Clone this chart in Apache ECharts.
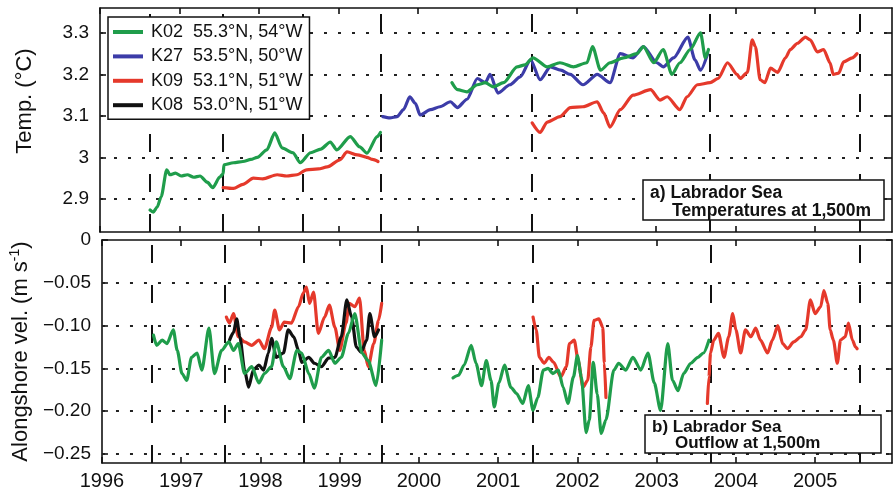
<!DOCTYPE html>
<html>
<head>
<meta charset="utf-8">
<script src="https://cdn.jsdelivr.net/npm/echarts@6/dist/echarts.min.js"></script>
<style>
  html, body { margin: 0; padding: 0; background: #fff; }
  #chart { width: 893px; height: 491px; }
</style>
</head>
<body>
<div id="chart"></div>
<script>
// Mooring identifiers and positions (legend)
const mooringNames = ['K02', 'K27', 'K09', 'K08'];
const mooringPositions = ['55.3°N, 54°W', '53.5°N, 50°W', '53.1°N, 51°W', '53.0°N, 51°W'];

// Axis ticks
const yearTicks = [1996, 1997, 1998, 1999, 2000, 2001, 2002, 2003, 2004, 2005];
const tempTicks = [2.9, 3, 3.1, 3.2, 3.3];
const velTicks = [-0.25, -0.2, -0.15, -0.1, -0.05, 0];
const yearMin = 1996;
const yearMax = 2005.97;

// Mooring turnaround dates (dashed verticals)
const deployments = [1996.63, 1997.55, 1998.55, 1999.53, 2001.44, 2003.68, 2005.56];

// Temperature at 1,500 m (°C), [decimal year, value]
const k02TempA = [[1996.63,2.873],[1996.67,2.868],[1996.72,2.880],[1996.77,2.905],[1996.84,2.970],[1996.88,2.958],[1996.95,2.962],[1997.02,2.955],[1997.10,2.958],[1997.18,2.952],[1997.26,2.955],[1997.35,2.940],[1997.42,2.927],[1997.51,2.953],[1997.55,2.960],[1997.56,2.982],[1997.68,2.987],[1997.80,2.990],[1997.90,2.995],[1997.98,3.000],[1998.10,3.018],[1998.20,3.059],[1998.29,3.023],[1998.43,3.011],[1998.52,2.987],[1998.65,3.011],[1998.78,3.020],[1998.90,3.037],[1998.98,3.018],[1999.15,3.050],[1999.27,3.025],[1999.36,3.010],[1999.49,3.050],[1999.53,3.060]];
const k02TempB = [[2000.43,3.180],[2000.50,3.163],[2000.62,3.158],[2000.75,3.175],[2000.85,3.180],[2000.95,3.170],[2001.08,3.180],[2001.25,3.218],[2001.35,3.223],[2001.45,3.240],[2001.63,3.218],[2001.79,3.228],[2001.96,3.218],[2002.13,3.228],[2002.20,3.267],[2002.30,3.210],[2002.42,3.228],[2002.59,3.240],[2002.76,3.250],[2002.84,3.267],[2002.97,3.228],[2003.09,3.260],[2003.20,3.200],[2003.30,3.228],[2003.43,3.260],[2003.56,3.300],[2003.62,3.240],[2003.66,3.260]];
const k27Temp = [[1999.56,3.098],[1999.65,3.095],[1999.74,3.098],[1999.82,3.115],[1999.90,3.146],[1999.97,3.130],[2000.03,3.102],[2000.16,3.115],[2000.28,3.122],[2000.41,3.134],[2000.50,3.120],[2000.62,3.140],[2000.75,3.190],[2000.85,3.180],[2000.91,3.200],[2001.01,3.155],[2001.16,3.175],[2001.29,3.194],[2001.42,3.235],[2001.54,3.187],[2001.67,3.218],[2001.80,3.210],[2001.92,3.200],[2002.08,3.175],[2002.26,3.200],[2002.42,3.180],[2002.55,3.250],[2002.71,3.240],[2002.84,3.267],[2003.01,3.228],[2003.09,3.218],[2003.22,3.240],[2003.40,3.290],[2003.49,3.235],[2003.56,3.210],[2003.65,3.250]];
const k09TempA = [[1997.55,2.927],[1997.68,2.925],[1997.80,2.935],[1997.93,2.950],[1998.05,2.948],[1998.23,2.958],[1998.35,2.955],[1998.48,2.958],[1998.60,2.970],[1998.75,2.972],[1998.86,2.977],[1999.02,2.994],[1999.11,3.013],[1999.24,3.006],[1999.36,3.000],[1999.43,2.995],[1999.50,2.990]];
const k09TempB = [[2001.44,3.083],[2001.54,3.060],[2001.63,3.085],[2001.79,3.098],[2001.92,3.120],[2002.08,3.122],[2002.26,3.134],[2002.34,3.107],[2002.42,3.073],[2002.55,3.115],[2002.71,3.150],[2002.93,3.163],[2003.05,3.138],[2003.14,3.146],[2003.30,3.115],[2003.39,3.146],[2003.52,3.175],[2003.68,3.180],[2003.78,3.190],[2003.90,3.228],[2004.02,3.200],[2004.06,3.190],[2004.15,3.205],[2004.21,3.283],[2004.25,3.267],[2004.31,3.187],[2004.37,3.180],[2004.44,3.215],[2004.53,3.205],[2004.63,3.240],[2004.69,3.260],[2004.78,3.275],[2004.88,3.290],[2004.94,3.283],[2005.03,3.254],[2005.11,3.260],[2005.19,3.228],[2005.23,3.200],[2005.30,3.203],[2005.36,3.230],[2005.47,3.240],[2005.53,3.250]];

// Alongshore velocity at 1,500 m (m/s), [decimal year, value]
const k02VelA = [[1996.65,-0.111],[1996.69,-0.123],[1996.76,-0.117],[1996.82,-0.121],[1996.90,-0.105],[1996.95,-0.129],[1997.01,-0.156],[1997.07,-0.164],[1997.13,-0.137],[1997.20,-0.132],[1997.26,-0.152],[1997.35,-0.103],[1997.42,-0.156],[1997.51,-0.129],[1997.60,-0.119],[1997.66,-0.129],[1997.72,-0.121],[1997.80,-0.156],[1997.89,-0.148],[1997.98,-0.167],[1998.05,-0.156],[1998.14,-0.148],[1998.20,-0.119],[1998.29,-0.148],[1998.37,-0.162],[1998.46,-0.129],[1998.52,-0.132],[1998.61,-0.156],[1998.68,-0.173],[1998.77,-0.137],[1998.86,-0.129],[1998.94,-0.144],[1999.02,-0.137],[1999.11,-0.109],[1999.19,-0.086],[1999.28,-0.132],[1999.36,-0.141],[1999.46,-0.170],[1999.53,-0.117]];
const k02VelB = [[2000.43,-0.161],[2000.50,-0.158],[2000.57,-0.146],[2000.66,-0.123],[2000.72,-0.144],[2000.79,-0.170],[2000.85,-0.141],[2000.91,-0.164],[2000.95,-0.195],[2001.01,-0.167],[2001.08,-0.146],[2001.16,-0.172],[2001.23,-0.179],[2001.31,-0.191],[2001.38,-0.170],[2001.44,-0.199],[2001.50,-0.184],[2001.57,-0.152],[2001.63,-0.150],[2001.69,-0.156],[2001.76,-0.152],[2001.82,-0.172],[2001.88,-0.191],[2001.95,-0.160],[2002.00,-0.135],[2002.05,-0.160],[2002.11,-0.225],[2002.15,-0.210],[2002.20,-0.143],[2002.25,-0.180],[2002.30,-0.226],[2002.36,-0.210],[2002.46,-0.152],[2002.52,-0.144],[2002.61,-0.152],[2002.70,-0.137],[2002.80,-0.152],[2002.89,-0.132],[2002.97,-0.167],[2003.05,-0.199],[2003.14,-0.121],[2003.20,-0.164],[2003.27,-0.176],[2003.34,-0.156],[2003.43,-0.144],[2003.52,-0.137],[2003.59,-0.132],[2003.66,-0.117]];
const k09VelA = [[1997.57,-0.090],[1997.61,-0.097],[1997.66,-0.086],[1997.72,-0.113],[1997.80,-0.119],[1997.89,-0.123],[1997.98,-0.117],[1998.05,-0.127],[1998.14,-0.102],[1998.18,-0.082],[1998.24,-0.105],[1998.30,-0.096],[1998.39,-0.097],[1998.48,-0.078],[1998.54,-0.062],[1998.58,-0.055],[1998.62,-0.074],[1998.67,-0.061],[1998.73,-0.109],[1998.81,-0.090],[1998.87,-0.076],[1998.94,-0.102],[1999.00,-0.129],[1999.08,-0.097],[1999.12,-0.074],[1999.19,-0.078],[1999.25,-0.068],[1999.31,-0.129],[1999.36,-0.148],[1999.43,-0.121],[1999.49,-0.094],[1999.53,-0.074]];
const k09VelB = [[2001.44,-0.090],[2001.48,-0.105],[2001.52,-0.137],[2001.58,-0.144],[2001.64,-0.137],[2001.70,-0.143],[2001.79,-0.160],[2001.86,-0.148],[2001.90,-0.121],[2001.96,-0.117],[2002.01,-0.141],[2002.07,-0.172],[2002.13,-0.164],[2002.17,-0.125],[2002.21,-0.094],[2002.27,-0.092],[2002.32,-0.102],[2002.34,-0.144],[2002.36,-0.184]];
const k09VelC = [[2003.64,-0.191],[2003.66,-0.160],[2003.68,-0.132],[2003.72,-0.117],[2003.78,-0.109],[2003.85,-0.137],[2003.91,-0.113],[2003.96,-0.086],[2004.00,-0.105],[2004.06,-0.132],[2004.12,-0.105],[2004.19,-0.113],[2004.25,-0.103],[2004.31,-0.117],[2004.40,-0.132],[2004.46,-0.117],[2004.53,-0.100],[2004.59,-0.121],[2004.65,-0.127],[2004.73,-0.119],[2004.82,-0.113],[2004.88,-0.105],[2004.94,-0.070],[2005.00,-0.086],[2005.07,-0.078],[2005.11,-0.059],[2005.16,-0.074],[2005.19,-0.105],[2005.23,-0.117],[2005.28,-0.144],[2005.32,-0.117],[2005.38,-0.113],[2005.42,-0.097],[2005.47,-0.117],[2005.51,-0.125],[2005.53,-0.127]];
const k08Vel = [[1997.61,-0.117],[1997.66,-0.108],[1997.70,-0.092],[1997.74,-0.113],[1997.80,-0.152],[1997.85,-0.172],[1997.91,-0.152],[1997.98,-0.146],[1998.04,-0.152],[1998.10,-0.132],[1998.14,-0.115],[1998.20,-0.137],[1998.29,-0.132],[1998.35,-0.105],[1998.42,-0.113],[1998.48,-0.129],[1998.52,-0.143],[1998.61,-0.137],[1998.68,-0.144],[1998.77,-0.148],[1998.86,-0.138],[1998.94,-0.137],[1999.02,-0.113],[1999.09,-0.070],[1999.15,-0.090],[1999.21,-0.125],[1999.27,-0.131],[1999.34,-0.117],[1999.38,-0.086],[1999.44,-0.113],[1999.49,-0.105]];

const colors = { K02: '#1f9d4b', K27: '#3c3ca8', K09: '#e5392b', K08: '#111111' };
const FONT = '"Liberation Sans", Arial, Helvetica, sans-serif';
const INK = '#111';

function trace(name, data, panel) {
  return {
    type: 'line', name, data,
    xAxisIndex: panel * 2, yAxisIndex: panel * 2,
    showSymbol: false, symbol: 'none',
    smooth: 0.25, smoothMonotone: 'x',
    lineStyle: { color: colors[name], width: 3.2, join: 'round', cap: 'round' },
    itemStyle: { color: colors[name] },
    z: 3, silent: true
  };
}

// Dotted horizontal grid at the tick levels plus dashed turnaround lines
function guides(panel, levels, anchor) {
  const dotted = { type: [3, 11], width: 2.2, color: '#222' };
  const dashed = { type: [18, 22], width: 2, color: INK };
  return {
    type: 'line', name: '_guides' + panel,
    xAxisIndex: panel * 2, yAxisIndex: panel * 2,
    data: [[yearMin, anchor]], showSymbol: false, symbol: 'none',
    lineStyle: { opacity: 0 }, silent: true, z: 1,
    markLine: {
      z: 1, silent: true, symbol: 'none', animation: false,
      label: { show: false }, emphasis: { disabled: true },
      data: levels.map(v => ({ yAxis: v, lineStyle: dotted }))
        .concat(deployments.map(v => ({ xAxis: v, lineStyle: dashed })))
    }
  };
}

const axisLineStyle = { show: true, onZero: false, lineStyle: { color: INK, width: 1.6 } };
const tickStyle = { show: true, inside: true, length: 6, lineStyle: { color: INK, width: 1.6 } };

function xAxisFor(panel, position, labels) {
  return {
    type: 'value', gridIndex: panel, position,
    min: yearMin, max: yearMax,
    axisLine: axisLineStyle,
    axisTick: Object.assign({ customValues: yearTicks }, tickStyle),
    splitLine: { show: false },
    axisLabel: labels
      ? { show: true, customValues: yearTicks, fontSize: 20, fontFamily: FONT, color: INK, margin: 8, formatter: v => String(v) }
      : { show: false, customValues: yearTicks }
  };
}

function yAxisFor(panel, position, ticks, range, fmt, name) {
  const ax = {
    type: 'value', gridIndex: panel, position,
    min: range[0], max: range[1],
    axisLine: axisLineStyle,
    axisTick: Object.assign({ customValues: ticks }, tickStyle),
    splitLine: { show: false },
    axisLabel: fmt
      ? { show: true, customValues: ticks, fontSize: 19, fontFamily: FONT, color: INK, margin: 11, formatter: fmt }
      : { show: false, customValues: ticks }
  };
  if (name) Object.assign(ax, name);
  return ax;
}

const tempFmt = v => (Math.abs(v - 3) < 1e-9 ? '3' : v.toFixed(1));
const velFmt = v => (Math.abs(v) < 1e-9 ? '0' : '\u2212' + Math.abs(v).toFixed(2));

const option = {
  animation: false,
  backgroundColor: '#fff',
  textStyle: { fontFamily: FONT },
  grid: [
    { left: 100, top: 8, width: 792, height: 224 },
    { left: 100, top: 240, width: 792, height: 223 }
  ],
  xAxis: [
    xAxisFor(0, 'bottom', false),
    xAxisFor(0, 'top', false),
    xAxisFor(1, 'bottom', true),
    xAxisFor(1, 'top', false)
  ],
  yAxis: [
    yAxisFor(0, 'left', tempTicks, [2.82, 3.36], tempFmt, {
      name: 'Temp. (°C)', nameLocation: 'middle', nameGap: 64, nameRotate: 90,
      nameTextStyle: { fontSize: 22, fontFamily: FONT, color: INK, padding: [0, 0, 0, 38] }
    }),
    yAxisFor(0, 'right', tempTicks, [2.82, 3.36], null),
    yAxisFor(1, 'left', velTicks, [-0.2605, 0], velFmt, {
      name: '{n|Alongshore vel. (m s}{s|-1}{n|)}', nameLocation: 'middle', nameGap: 64, nameRotate: 90,
      nameTextStyle: {
        color: INK,
        rich: {
          n: { fontSize: 22, fontFamily: FONT, color: INK, lineHeight: 26 },
          s: { fontSize: 14, fontFamily: FONT, color: INK, verticalAlign: 'top', lineHeight: 26 }
        }
      }
    }),
    yAxisFor(1, 'right', velTicks, [-0.2605, 0], null)
  ],
  legend: {
    data: mooringNames,
    orient: 'vertical', left: 108, top: 17, z: 20,
    padding: [6, 7, 5, 5], itemGap: 6.4,
    itemWidth: 30, itemHeight: 4, icon: 'rect',
    backgroundColor: '#fff', borderColor: INK, borderWidth: 1.5, borderRadius: 0,
    selectedMode: false,
    textStyle: { fontSize: 18, fontFamily: FONT, color: INK, padding: [0, 0, 0, 3] },
    formatter: name => name + '  ' + mooringPositions[mooringNames.indexOf(name)]
  },
  graphic: [
    { type: 'rect', shape: { x: 643, y: 180, width: 241, height: 40 }, style: { fill: '#fff', stroke: INK, lineWidth: 1.5 }, z: 10 },
    { type: 'text', x: 650, y: 193, style: { text: 'a) Labrador Sea', font: 'bold 17.5px ' + FONT, fill: INK, verticalAlign: 'middle' }, z: 11 },
    { type: 'text', x: 672, y: 211, style: { text: 'Temperatures at 1,500m', font: 'bold 17.5px ' + FONT, fill: INK, verticalAlign: 'middle' }, z: 11 },
    { type: 'rect', shape: { x: 645, y: 415, width: 236, height: 38 }, style: { fill: '#fff', stroke: INK, lineWidth: 1.5 }, z: 10 },
    { type: 'text', x: 652, y: 427, style: { text: 'b) Labrador Sea', font: 'bold 17px ' + FONT, fill: INK, verticalAlign: 'middle' }, z: 11 },
    { type: 'text', x: 675, y: 443, style: { text: 'Outflow at 1,500m', font: 'bold 17px ' + FONT, fill: INK, verticalAlign: 'middle' }, z: 11 }
  ],
  series: [
    guides(0, tempTicks, 3.0),
    guides(1, velTicks.filter(v => v !== 0), -0.1),
    trace('K09', k09TempA, 0),
    trace('K09', k09TempB, 0),
    trace('K27', k27Temp, 0),
    trace('K02', k02TempA, 0),
    trace('K02', k02TempB, 0),
    trace('K09', k09VelA, 1),
    trace('K09', k09VelB, 1),
    trace('K09', k09VelC, 1),
    trace('K08', k08Vel, 1),
    trace('K02', k02VelA, 1),
    trace('K02', k02VelB, 1)
  ]
};

const chart = echarts.init(document.getElementById('chart'), null, { renderer: 'canvas' });
chart.setOption(option);
</script>
</body>
</html>
